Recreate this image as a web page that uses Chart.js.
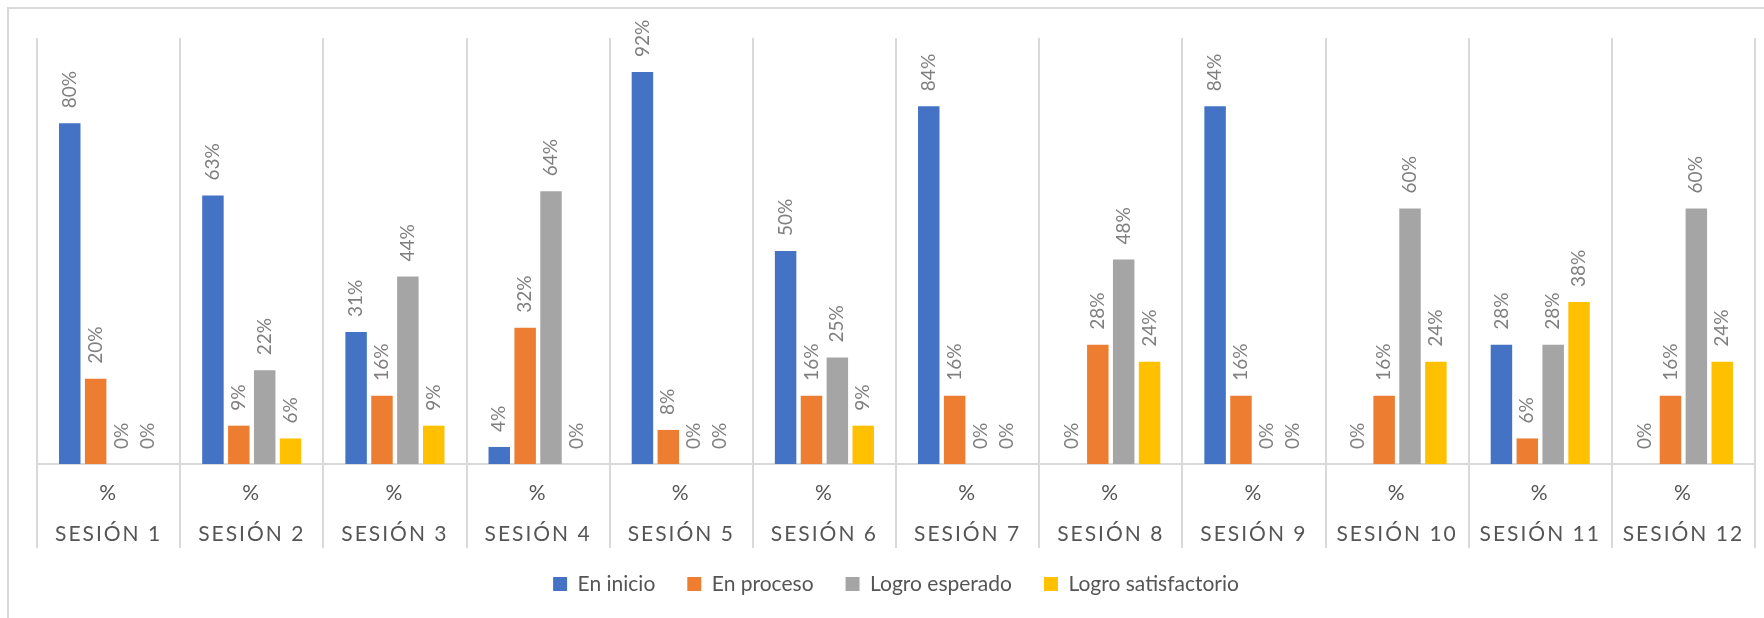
<!DOCTYPE html>
<html>
<head>
<meta charset="utf-8">
<script src="https://cdn.jsdelivr.net/npm/chart.js@4/dist/chart.umd.min.js"></script>
<style>
  html, body { margin: 0; padding: 0; background: #fff; }
  canvas { display: block; }
</style>
</head>
<body>
<canvas id="sesiones" width="1764" height="618"></canvas>
<script>
// datos por sesión (porcentajes)
const sessions = ["SESIÓN 1", "SESIÓN 2", "SESIÓN 3", "SESIÓN 4", "SESIÓN 5", "SESIÓN 6",
  "SESIÓN 7", "SESIÓN 8", "SESIÓN 9", "SESIÓN 10", "SESIÓN 11", "SESIÓN 12"];
const subLabel = "%";
const enInicio = [80, 63, 31, 4, 92, 50, 84, 0, 84, 0, 28, 0];
const enProceso = [20, 9, 16, 32, 8, 16, 16, 28, 16, 16, 6, 16];
const logroEsperado = [0, 22, 44, 64, 0, 25, 0, 48, 0, 60, 28, 60];
const logroSatisfactorio = [0, 6, 9, 0, 0, 9, 0, 24, 0, 24, 38, 24];

const FONT = "Lato, 'Open Sans', sans-serif";

// fondo y marco del gráfico
const frame = {
  id: "frame",
  beforeDraw(chart) {
    const c = chart.ctx;
    c.save();
    c.fillStyle = "#fff";
    c.fillRect(0, 0, chart.width, chart.height);
    c.strokeStyle = "#d9d9d9";
    c.lineWidth = 2;
    c.strokeRect(8, 8, chart.width + 20, chart.height + 20);
    c.restore();

    // espaciado de letras en las etiquetas del eje x
    const x = chart.scales.x;
    if (x && !x._spaced) {
      const orig = x.drawLabels;
      x.drawLabels = function (area) {
        this.ctx.save();
        this.ctx.letterSpacing = "2px";
        orig.call(this, area);
        this.ctx.restore();
      };
      x._spaced = true;
    }
  }
};

// etiquetas de valor giradas sobre cada barra
const valueLabels = {
  id: "valueLabels",
  afterDatasetsDraw(chart) {
    const c = chart.ctx;
    c.save();
    c.font = "19px " + FONT;
    c.fillStyle = "#7f7f7f";
    c.textAlign = "left";
    c.textBaseline = "middle";
    chart.data.datasets.forEach((ds, i) => {
      chart.getDatasetMeta(i).data.forEach((bar, j) => {
        c.save();
        c.translate(bar.x, bar.y - 15);
        c.rotate(-Math.PI / 2);
        c.fillText(ds.data[j] + "%", 0, 0);
        c.restore();
      });
    });
    c.restore();
  }
};

new Chart(document.getElementById("sesiones"), {
  type: "bar",
  data: {
    labels: sessions,
    datasets: [
      { label: "En inicio", data: enInicio, backgroundColor: "#4472c4" },
      { label: "En proceso", data: enProceso, backgroundColor: "#ed7d31" },
      { label: "Logro esperado", data: logroEsperado, backgroundColor: "#a5a5a5" },
      { label: "Logro satisfactorio", data: logroSatisfactorio, backgroundColor: "#ffc000" }
    ]
  },
  options: {
    responsive: false,
    animation: false,
    datasets: { bar: { categoryPercentage: 0.723, barPercentage: 0.83, borderWidth: 0 } },
    layout: { padding: { left: 37, right: 9, top: 38, bottom: 13.5 } },
    scales: {
      x: {
        grid: { offset: true, color: "#d9d9d9", lineWidth: 2, tickLength: 84, tickColor: "#d9d9d9" },
        border: { display: true, color: "#d9d9d9", width: 2 },
        ticks: {
          autoSkip: false,
          maxRotation: 0,
          padding: -75.5,
          color: "#555555",
          font: { family: FONT, size: 21, lineHeight: 41 / 21 },
          callback: (v, i) => [subLabel, sessions[i]]
        },
        afterFit: (scale) => { scale.height = 77.5; }
      },
      y: { display: false, min: 0, max: 100 }
    },
    plugins: {
      legend: {
        position: "bottom",
        labels: {
          boxWidth: 14,
          boxHeight: 14,
          padding: 32,
          color: "#555555",
          font: { family: FONT, size: 21 }
        }
      },
      tooltip: { enabled: false }
    }
  },
  plugins: [frame, valueLabels]
});
</script>
</body>
</html>
